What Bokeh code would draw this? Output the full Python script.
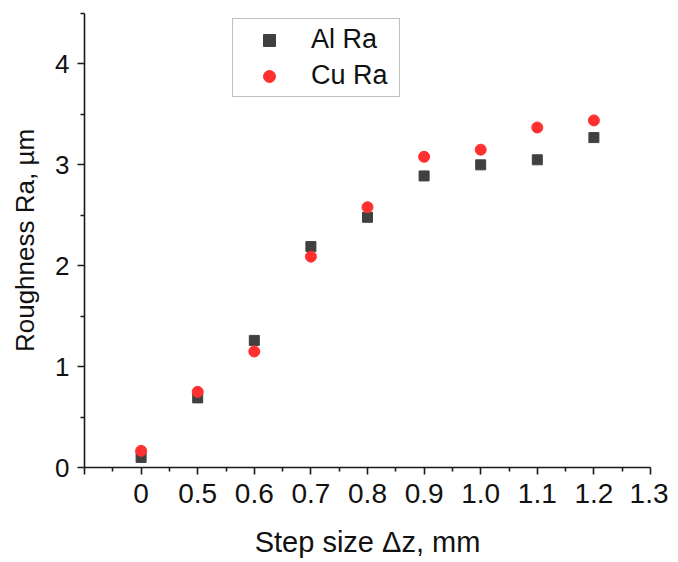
from bokeh.plotting import figure
from bokeh.models import FixedTicker, ColumnDataSource, Legend, LegendItem
from bokeh.embed import file_html
from bokeh.resources import INLINE

# Data
step_labels = ["0", "0.5", "0.6", "0.7", "0.8", "0.9", "1.0", "1.1", "1.2", "1.3"]
steps = ["0", "0.5", "0.6", "0.7", "0.8", "0.9", "1.0", "1.1", "1.2"]
al_ra = [0.10, 0.69, 1.26, 2.19, 2.48, 2.89, 3.00, 3.05, 3.27]
cu_ra = [0.165, 0.75, 1.15, 2.09, 2.58, 3.08, 3.15, 3.37, 3.44]
y_ticks = [0, 1, 2, 3, 4]

FONT = "Liberation Sans"

xpos = [step_labels.index(s) for s in steps]
src = ColumnDataSource(dict(x=xpos, al=al_ra, cu=cu_ra))

p = figure(width=668, height=560, output_backend="svg", toolbar_location=None,
           x_range=(-1, len(step_labels) - 1), y_range=(0, 4.5),
           min_border_left=84, min_border_right=18, min_border_top=13, min_border_bottom=93)
p.outline_line_color = None
p.xgrid.visible = False
p.ygrid.visible = False
p.background_fill_color = "white"
p.border_fill_color = "white"

r_al = p.scatter("x", "al", source=src, marker="square", size=10,
                 fill_color="#404040", line_color="#404040")
r_cu = p.scatter("x", "cu", source=src, marker="circle", size=11,
                 fill_color="#ff3030", line_color="#ff3030")

xt = list(range(-1, len(step_labels)))
p.xaxis.ticker = FixedTicker(ticks=xt, minor_ticks=[t + 0.5 for t in xt[:-1]])
overrides = {-1: ""}
for i, s in enumerate(step_labels):
    overrides[i] = s
p.xaxis.major_label_overrides = overrides
p.yaxis.ticker = FixedTicker(ticks=y_ticks, minor_ticks=[t + 0.5 for t in y_ticks])

for ax in (p.xaxis[0], p.yaxis[0]):
    ax.axis_line_width = 1.6
    ax.axis_line_color = "#1a1a1a"
    ax.major_tick_line_width = 1.6
    ax.minor_tick_line_width = 1.6
    ax.major_tick_line_color = "#1a1a1a"
    ax.minor_tick_line_color = "#1a1a1a"
    ax.major_tick_out = 7
    ax.major_tick_in = 0
    ax.minor_tick_out = 4
    ax.minor_tick_in = 0
    ax.major_label_text_font = FONT
    ax.major_label_text_color = "#111111"
    ax.axis_label_text_font = FONT
    ax.axis_label_text_font_style = "normal"
    ax.axis_label_text_color = "#111111"

p.xaxis.major_label_text_font_size = "28px"
p.yaxis.major_label_text_font_size = "26px"
p.xaxis.axis_label = "Step size Δz, mm"
p.xaxis.axis_label_text_font_size = "29px"
p.xaxis.major_label_standoff = 9
p.xaxis.axis_label_standoff = 20
p.yaxis.axis_label = "Roughness Ra, µm"
p.yaxis.axis_label_text_font_size = "26px"
p.yaxis.major_label_standoff = 8
p.yaxis.axis_label_standoff = 12

legend = Legend(items=[LegendItem(label="Al Ra", renderers=[r_al]),
                       LegendItem(label="Cu Ra", renderers=[r_cu])],
                location=(148, 370))
legend.label_text_font = FONT
legend.label_text_font_size = "27px"
legend.label_text_color = "#111111"
legend.border_line_color = "#808080"
legend.border_line_width = 1.2
legend.background_fill_alpha = 1
legend.padding = 5
legend.spacing = 5
legend.glyph_width = 62
legend.glyph_height = 30
legend.label_standoff = 11
legend.margin = 0
legend.label_width = 83
legend.label_height = 30
p.add_layout(legend, "center")

open("out.html", "w").write(file_html(p, INLINE))
